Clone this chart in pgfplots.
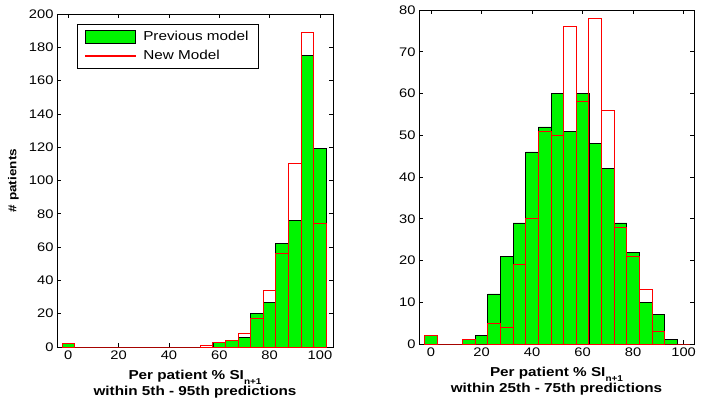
\documentclass[border=0pt]{standalone}
\usepackage{fontspec}
\setmainfont{Liberation Sans}[FakeStretch=1.18]
\usepackage{pgfplots}
\usepackage{pgfplotstable}
\pgfplotsset{compat=1.18}

\definecolor{bargreen}{RGB}{0,245,0}
\definecolor{newred}{RGB}{255,0,0}

% Histogram counts, bin centres 0,5,...,100
\pgfplotstableread{
x   prev new
0   2    2
5   0    0
10  0    0
15  0    0
20  0    0
25  0    0
30  0    0
35  0    0
40  0    0
45  0    0
50  0    0
55  0    1
60  3    3
65  4    4
70  6    8
75  20   17
80  27   34
85  62   56
90  76   110
95  175  189
100 119  74
}\outer

\pgfplotstableread{
x   prev new
0   2    2
5   0    0
10  0    0
15  1    1
20  2    0
25  12   5
30  21   4
35  29   19
40  46   30
45  52   51
50  60   50
55  51   76
60  60   58
65  48   78
70  42   56
75  29   28
80  22   21
85  10   13
90  7    3
95  1    0
100 0    0
}\inner

\pgfplotsset{
  histax/.style={
    scale only axis, anchor=south west,
    ymin=0,
    xtick={0,20,...,100},
    tick align=inside, major tick length=4bp,
    axis line style={line width=0.9bp},
    every tick/.style={black, line width=0.6bp},
    tick label style={font=\fontsize{12.5}{14}\selectfont},
    /pgf/number format/assume math mode=true,
    xlabel style={font=\bfseries\fontsize{13}{16}\selectfont, align=center,
      at={(axis description cs:0.5,0)}, anchor=north, yshift=-20bp},
  },
  greenbar/.style={ybar, bar width=5, bar shift=0pt, fill=bargreen,
    draw=black, line width=0.8bp,
    legend image code/.code={\draw[fill=bargreen, draw=black, line width=0.8bp]
      (0bp,-6.5bp) rectangle (50bp,6.5bp);}},
  redbar/.style={ybar, bar width=5, bar shift=0pt, draw=newred, fill=none,
    line width=1bp,
    legend image code/.code={\fill[newred] (0bp,-0.5bp) rectangle (50bp,0.5bp);}},
}

\newcommand{\sil}{\textbf{Per patient \% SI}\raisebox{-5bp}{\bfseries\fontsize{8.5}{10}\selectfont n+1}}

\begin{document}
\begin{tikzpicture}
\begin{axis}[histax,
  at={(57bp,53bp)}, width=276bp, height=333bp,
  xmin=-4.5, xmax=105.2,
  ymax=200, ytick={0,20,...,200},
  xlabel={\sil\\within 5th - 95th predictions},
  ylabel={\# patients},
  ylabel style={font=\bfseries\fontsize{11.5}{13}\selectfont,
    at={(axis description cs:-0.158,0.5)}, anchor=center},
  legend style={at={(0.072,0.97)}, anchor=north west, draw=black,
    line width=0.8bp, font=\fontsize{13}{15}\selectfont,
    cells={anchor=west}, inner xsep=8bp, inner ysep=5bp,
    row sep=4bp, column sep=5bp},
]
\addplot[greenbar] table[x=x, y=prev] {\outer};
\addlegendentry{Previous model}
\addplot[redbar] table[x=x, y=new] {\outer};
\addlegendentry{New Model}
\end{axis}

\begin{axis}[histax,
  at={(419bp,56bp)}, width=275bp, height=334bp,
  xmin=-4.75, xmax=104.1,
  ymax=80, ytick={0,10,...,80},
  xlabel={\sil\\within 25th - 75th predictions},
]
\addplot[greenbar] table[x=x, y=prev] {\inner};
\addplot[redbar] table[x=x, y=new] {\inner};
\end{axis}
\pgfresetboundingbox
\useasboundingbox (0,0) rectangle (705bp,400bp);
\end{tikzpicture}
\end{document}
